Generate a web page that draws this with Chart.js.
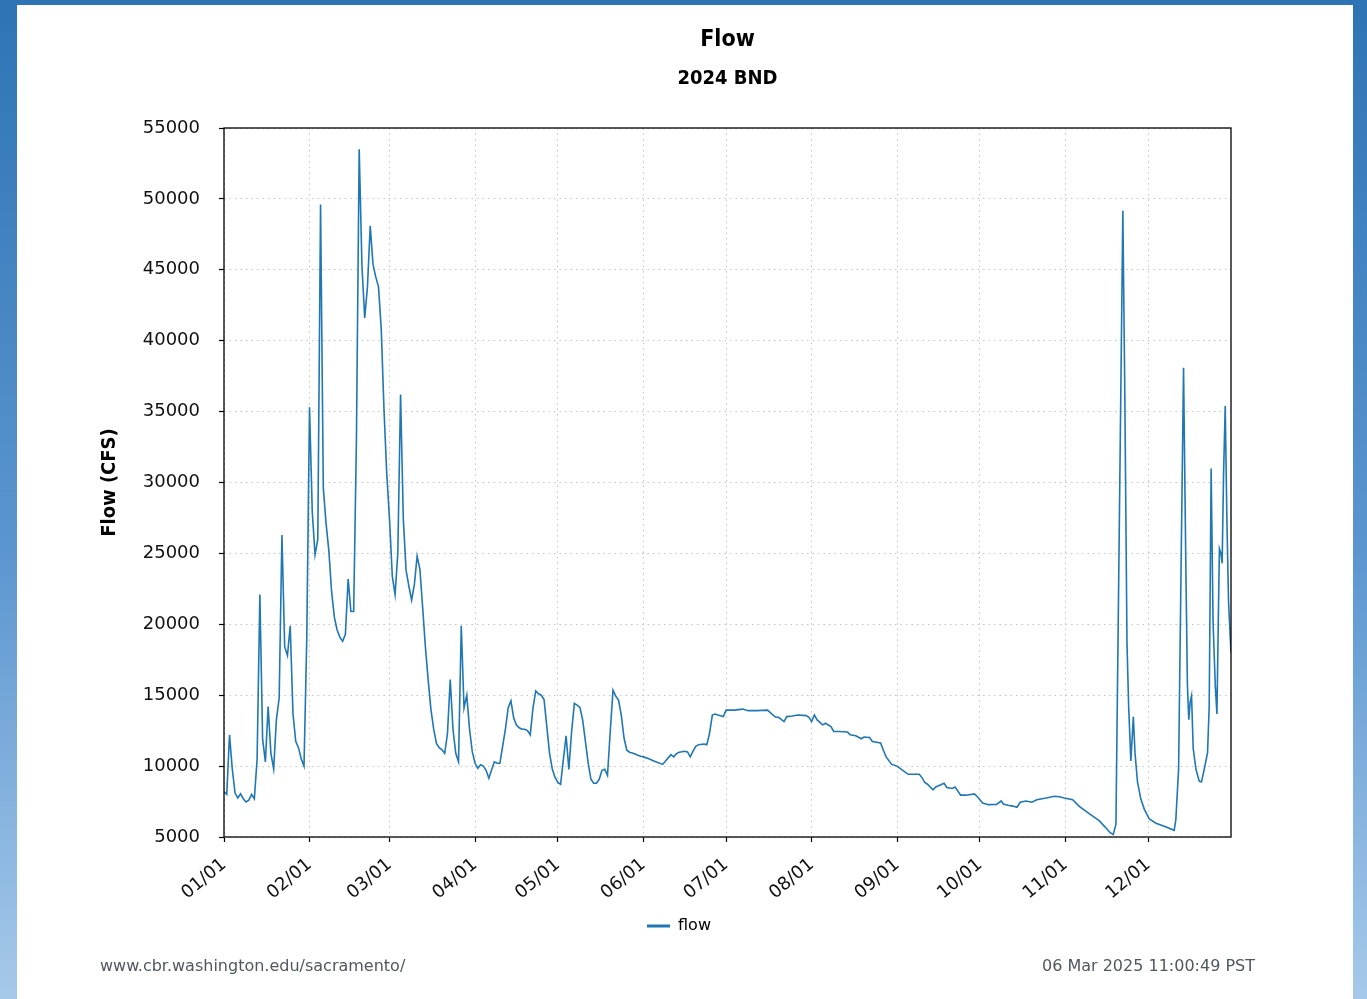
<!DOCTYPE html>
<html><head><meta charset="utf-8">
<script src="https://cdn.jsdelivr.net/npm/chart.js@4.4.1/dist/chart.umd.min.js"></script>
<style>
html,body{margin:0;padding:0;width:1367px;height:999px;overflow:hidden;background:#fff;}
#frame{position:absolute;left:0;top:0;width:1367px;height:999px;background:linear-gradient(to bottom,#2e74b5 0%,#5b95cf 55%,#a6c9ea 100%);}
#panel{position:absolute;left:17px;top:5px;width:1336px;height:994px;background:#fff;}
#wrap{position:absolute;left:0;top:0;width:1367px;height:999px;}
.foot{position:absolute;top:956px;font:16px 'DejaVu Sans',sans-serif;color:#4f5861;white-space:nowrap;}
</style></head><body>
<div id="frame"></div><div id="panel"></div>
<div id="wrap"><canvas id="c" width="1367" height="999"></canvas></div>
<div class="foot" style="left:100px">www.cbr.washington.edu/sacramento/</div>
<div class="foot" style="right:112px">06 Mar 2025 11:00:49 PST</div>
<script>
// ---- data ----
const monthTickDays = [0,31,60,91,121,152,182,213,244,274,305,335];
const monthTickLabels = ['01/01','02/01','03/01','04/01','05/01','06/01','07/01','08/01','09/01','10/01','11/01','12/01'];
const yTickValues = [5000,10000,15000,20000,25000,30000,35000,40000,45000,50000,55000];
const flowDays = [
0,1,2,3,4,5,6,7,8,9,10,11,12,13,14,15,16,17,18,19,20,21,22,23,24,25,26,27,28,29,
30,31,32,33,34,35,36,37,38,39,40,41,42,43,44,45,46,47,48,49,50,51,52,53,54,55,56,57,58,59,
60,61,62,63,64,65,66,67,68,69,70,71,72,73,74,75,76,77,78,79,80,81,82,83,84,85,86,87,88,89,
90,91,92,93,94,95,96,97,98,99,100,101,102,103,104,105,106,107,108,109,110,111,112,113,114,115,116,117,118,119,
120,121,122,123,124,125,126,127,128,129,130,131,132,133,134,135,136,137,138,139,140,141,142,143,144,145,146,147,148,149,
150,151,152,154,156,159,161,162,163,164,165,167,168,169,170,171,172,174,175,176,177,178,179,181,182,
185,188,190,193,197,199,200,201,203,204,206,208,211,212,213,214,215,217,218,220,221,223,226,227,229,231,232,234,235,238,
239,240,242,244,246,248,252,253,254,255,257,258,261,262,264,265,267,269,272,273,275,277,280,
281.7,282.5,284.1,285.9,287.4,288.6,290.7,292.8,294.6,298,301,302.8,304.6,307.6,310,313.6,317.2,319.4,321.1,322.3,323.3,
325.8,326.5,327.3,327.9,328.7,329.6,330.2,331.1,332.3,333.6,335.4,337.8,340.8,344.4,345,346,
347.8,348.6,349.2,349.7,350.2,350.7,351.3,352.3,353.5,354.3,355.3,356.5,357.1,357.8,358.5,359.3,359.9,
360.5,360.8,361.3,361.8,362.3,362.9,363.5,364.1,365
];
const flowValues = [
8200,8000,12200,9800,8100,7750,8050,7700,7470,7600,8000,7700,10500,22100,11900,10300,14200,10900,9800,13300,14800,26300,18400,17800,19900,13700,11750,11300,10500,10000,
19000,35300,27900,24900,26000,49600,29600,27100,25200,22300,20500,19600,19100,18800,19300,23200,20900,20900,33000,53500,45300,41600,43800,48100,45400,44500,43800,40800,35100,30600,
27400,23400,22100,25000,36200,27400,23800,22700,21700,22800,24800,23900,21200,18400,16100,14000,12600,11600,11300,11150,10900,12300,16100,12600,10900,10300,19900,14100,15000,12600,
11000,10200,9850,10100,10000,9700,9150,9750,10300,10200,10200,11400,12600,14100,14600,13400,12900,12700,12600,12600,12500,12200,14100,15300,15100,15000,14700,12800,10900,9800,
9200,8850,8720,10460,12140,9770,12440,14420,14300,14140,13260,11740,10230,9070,8790,8790,9070,9700,9770,9350,12440,15350,14930,14650,13600,11980,11120,10980,10930,10860,
10770,10700,10650,10510,10350,10120,10580,10810,10650,10880,10980,11050,11000,10650,11050,11390,11510,11560,11510,12330,13600,13670,13600,13490,13950,
13950,14020,13910,13910,13950,13600,13440,13440,13140,13490,13530,13600,13560,13440,13140,13600,13260,12910,13020,12790,12440,12440,12400,12210,12140,11930,12050,12020,11740,11630,
11120,10650,10120,10000,9700,9420,9420,9190,8840,8720,8330,8530,8790,8490,8420,8530,7950,7950,8040,7860,7390,7280,7300,
7540,7330,7240,7180,7100,7450,7540,7450,7630,7750,7870,7840,7750,7630,7160,6650,6150,5700,5320,5170,5910,
49170,36470,18670,14220,10360,13480,10950,8880,7690,6950,6270,5970,5760,5470,6210,9770,
38100,24600,15700,13270,14510,14960,11250,9770,8940,8880,9770,10950,14220,30980,20150,15700,13680,
21640,25340,25050,24310,30540,35400,27570,21640,18000
];

Chart.defaults.font.family = "'DejaVu Sans', sans-serif";
Chart.defaults.color = '#111';

const LINE = '#1f77b4';
const GRID = '#c4c4c4';
const BOLD_FAMILY = "'DejaVu Sans Condensed', 'DejaVu Sans', sans-serif";

const framePlugin = {
  id: 'frame',
  afterDatasetsDraw(chart) {
    const {ctx, chartArea: a} = chart;
    ctx.save();
    ctx.strokeStyle = '#000';
    ctx.lineWidth = 1.3;
    ctx.strokeRect(a.left, a.top, a.right - a.left, a.bottom - a.top);
    ctx.restore();
  }
};

new Chart(document.getElementById('c'), {
  type: 'line',
  data: {
    datasets: [{
      label: 'flow',
      data: flowDays.map((d, i) => ({x: d, y: flowValues[i]})),
      borderColor: LINE,
      backgroundColor: LINE,
      borderWidth: 1.6,
      pointRadius: 0,
      tension: 0,
      fill: false
    }]
  },
  plugins: [framePlugin],
  options: {
    responsive: false,
    animation: false,
    events: [],
    layout: {padding: {left: 0, right: 9, top: 0, bottom: 55}},
    plugins: {
      title: {
        display: true, text: 'Flow', fullSize: false, color: '#000',
        font: {family: BOLD_FAMILY, size: 23, weight: 'bold'},
        padding: {top: 26.7, bottom: 0}
      },
      subtitle: {
        display: true, text: '2024 BND', fullSize: false, color: '#000',
        font: {family: BOLD_FAMILY, size: 20, weight: 'bold'},
        padding: {top: 12.2, bottom: 37.5}
      },
      legend: {
        display: true, position: 'bottom', fullSize: true,
        labels: {
          boxWidth: 23, boxHeight: 3, padding: 10, color: '#111',
          font: {size: 16},
          generateLabels(chart) {
            return chart.data.datasets.map((ds, i) => ({
              text: ds.label, fillStyle: LINE, strokeStyle: LINE, lineWidth: 0,
              hidden: false, datasetIndex: i
            }));
          }
        }
      },
      tooltip: {enabled: false}
    },
    scales: {
      x: {
        type: 'linear', position: 'bottom', min: 0, max: 365,
        afterBuildTicks(s) { s.ticks = monthTickDays.map(v => ({value: v})); },
        afterFit(s) { s.height = 71; },
        ticks: {
          autoSkip: false, minRotation: 40, maxRotation: 40, padding: 12,
          font: {size: 18}, color: '#111',
          callback(v) { const k = monthTickDays.indexOf(v); return k >= 0 ? monthTickLabels[k] : ''; }
        },
        grid: {color: GRID, lineWidth: 1, tickLength: 5, tickColor: '#000', tickWidth: 1.2, tickBorderDash: []},
        border: {display: false, dash: [1.5, 4]}
      },
      y: {
        type: 'linear', position: 'left', min: 5000, max: 55000,
        afterBuildTicks(s) { s.ticks = yTickValues.map(v => ({value: v})); },
        afterFit(s) { s.width = 224; },
        ticks: {padding: 19, font: {size: 18}, color: '#111', callback: v => String(v)},
        grid: {color: GRID, lineWidth: 1, tickLength: 5, tickColor: '#000', tickWidth: 1.2, tickBorderDash: []},
        border: {display: false, dash: [1.5, 4]},
        title: {
          display: true, text: 'Flow (CFS)', color: '#000',
          font: {family: BOLD_FAMILY, size: 20, weight: 'bold'},
          padding: {top: 98, bottom: 0}
        }
      },
      yR: {
        type: 'linear', position: 'right', display: true,
        afterFit(s) { s.width = 127; },
        ticks: {display: false},
        grid: {display: false, drawOnChartArea: false},
        border: {display: false}
      }
    }
  }
});
</script>
</body></html>
